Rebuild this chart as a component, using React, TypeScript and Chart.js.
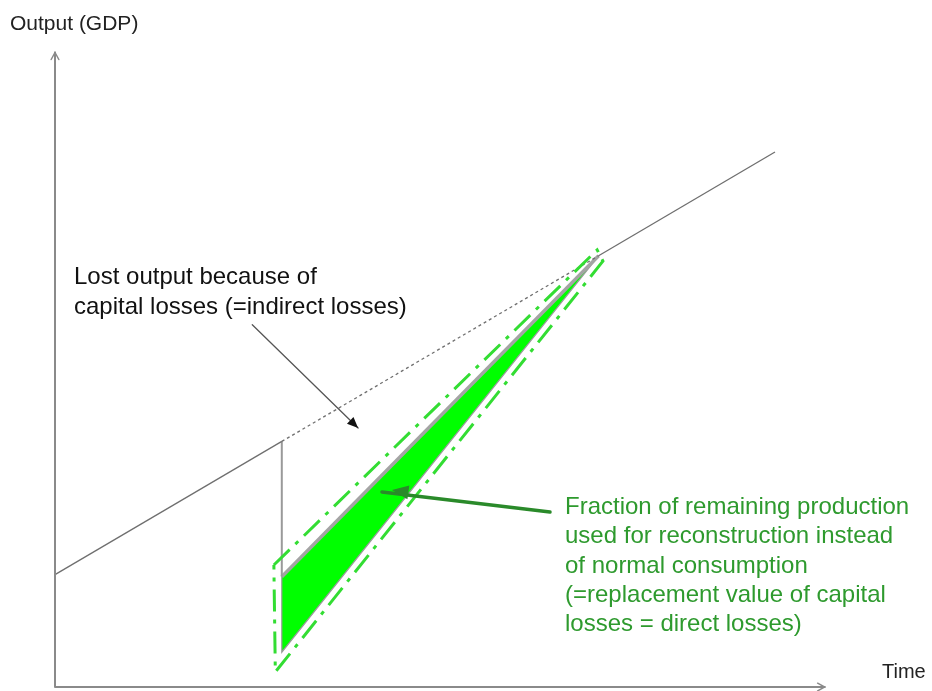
import React, { useEffect, useRef } from "react";
import { Chart, registerables } from "chart.js";

Chart.register(...registerables);

// Time (x) and output (y) in arbitrary units
const baselinePre = [
  { x: 0, y: 21 },
  { x: 31.5, y: 45.9 },
];
const baselineCounterfactual = [
  { x: 31.5, y: 45.9 },
  { x: 75.5, y: 80.6 },
];
const baselinePost = [
  { x: 75.5, y: 80.6 },
  { x: 100, y: 100 },
];
const dropLine = [
  { x: 31.5, y: 45.9 },
  { x: 31.5, y: 20.6 },
];
const recoveryLine = [
  { x: 31.5, y: 20.6 },
  { x: 75.5, y: 80.6 },
];
const directLossArea = [
  { x: 31.5, y: 20.6 },
  { x: 75.5, y: 80.6 },
  { x: 31.5, y: 6.5 },
  { x: 31.5, y: 20.6 },
];
const directLossOutline = [
  { x: 30.4, y: 22.8 },
  { x: 75.3, y: 81.7 },
  { x: 76.1, y: 79.6 },
  { x: 30.6, y: 2.8 },
  { x: 30.4, y: 22.8 },
];
const indirectArrow = [
  { x: 27.4, y: 67.7 },
  { x: 42.1, y: 48.4 },
];
const directArrow = [
  { x: 68.75, y: 32.7 },
  { x: 46.8, y: 36.8 },
];
const axisOrigin = { x: 0, y: 0 };
const axisEnds = { x: 106.9, y: 118.6 };

const indirectLabel = ["Lost output because of", "capital losses (=indirect losses)"];
const directLabel = [
  "Fraction of remaining production",
  "used for reconstruction instead",
  "of normal consumption",
  "(=replacement value of capital",
  "losses = direct losses)",
];
const yAxisTitle = "Output (GDP)";
const xAxisTitle = "Time";

const FONT = '"Liberation Sans", Arial, sans-serif';

function arrowHead(ctx: CanvasRenderingContext2D, x1: number, y1: number, x2: number, y2: number, size: number, filled: boolean) {
  const a = Math.atan2(y2 - y1, x2 - x1);
  const spread = filled ? 0.4 : 0.5;
  ctx.beginPath();
  ctx.moveTo(x2 - size * Math.cos(a - spread), y2 - size * Math.sin(a - spread));
  ctx.lineTo(x2, y2);
  ctx.lineTo(x2 - size * Math.cos(a + spread), y2 - size * Math.sin(a + spread));
  if (filled) {
    ctx.closePath();
    ctx.fill();
  } else {
    ctx.stroke();
  }
}

const decorPlugin = {
  id: "decor",
  afterDatasetsDraw(chart: any) {
    const ctx: CanvasRenderingContext2D = chart.ctx;
    const xs = chart.scales.x;
    const ys = chart.scales.y;
    const px = (v: number) => xs.getPixelForValue(v);
    const py = (v: number) => ys.getPixelForValue(v);
    ctx.save();
    ctx.setLineDash([]);
    ctx.lineCap = "round";

    // axes
    ctx.strokeStyle = "#8a8a8a";
    ctx.lineWidth = 2;
    const ox = px(axisOrigin.x);
    const oy = py(axisOrigin.y);
    const ex = px(axisEnds.x);
    const ey = py(axisEnds.y);
    ctx.beginPath();
    ctx.moveTo(ox, oy);
    ctx.lineTo(ox, ey);
    ctx.moveTo(ox, oy);
    ctx.lineTo(ex, oy);
    ctx.stroke();
    ctx.lineWidth = 1.5;
    arrowHead(ctx, ox, oy, ox, ey, 8, false);
    arrowHead(ctx, ox, oy, ex, oy, 8, false);

    // indirect loss arrow
    ctx.strokeStyle = "#555";
    ctx.fillStyle = "#111";
    ctx.lineWidth = 1.3;
    const a1 = { x: px(indirectArrow[0].x), y: py(indirectArrow[0].y) };
    const a2 = { x: px(indirectArrow[1].x), y: py(indirectArrow[1].y) };
    ctx.beginPath();
    ctx.moveTo(a1.x, a1.y);
    ctx.lineTo(a2.x, a2.y);
    ctx.stroke();
    arrowHead(ctx, a1.x, a1.y, a2.x, a2.y, 12, true);

    // direct loss arrow
    ctx.strokeStyle = "#2a8a2a";
    ctx.fillStyle = "#2a8a2a";
    ctx.lineWidth = 3.5;
    const b1 = { x: px(directArrow[0].x), y: py(directArrow[0].y) };
    const b2 = { x: px(directArrow[1].x), y: py(directArrow[1].y) };
    ctx.beginPath();
    ctx.moveTo(b1.x, b1.y);
    ctx.lineTo(b2.x - 10, b2.y + 1.8);
    ctx.stroke();
    arrowHead(ctx, b1.x, b1.y, b2.x, b2.y, 18, true);

    // texts
    ctx.textAlign = "left";
    ctx.textBaseline = "alphabetic";
    ctx.fillStyle = "#111";
    ctx.font = `24px ${FONT}`;
    indirectLabel.forEach((t, i) => ctx.fillText(t, 74, 284 + i * 30));
    ctx.fillStyle = "#2e9a2e";
    directLabel.forEach((t, i) => ctx.fillText(t, 565, 514 + i * 29.3));
    ctx.fillStyle = "#222";
    ctx.font = `21px ${FONT}`;
    ctx.fillText(yAxisTitle, 10, 30);
    ctx.font = `20px ${FONT}`;
    ctx.fillText(xAxisTitle, 882, 678);
    ctx.restore();
  },
};

export default function App() {
  const ref = useRef<HTMLCanvasElement>(null);
  useEffect(() => {
    document.body.style.margin = "0";
    const pxPerX = 7.2;
    const pxPerY = 5.35;
    const line = (data: any, color: string, width: number, extra: any = {}) => ({
      data,
      borderColor: color,
      borderWidth: width,
      pointRadius: 0,
      showLine: true,
      fill: false,
      tension: 0,
      clip: false,
      order: 1,
      ...extra,
    });
    const chart = new Chart(ref.current!, {
      type: "scatter",
      data: {
        datasets: [
          line(directLossArea, "#9a9a9a", 1.2, { fill: "shape", backgroundColor: "#00ff00", order: 10 }),
          line(baselinePre, "#6f6f6f", 1.3),
          line(baselineCounterfactual, "#6f6f6f", 1.3, { borderDash: [3, 3] }),
          line(baselinePost, "#6f6f6f", 1.3),
          line(dropLine, "#9a9a9a", 2),
          line(recoveryLine, "#a4a4a4", 3.5),
          line(directLossOutline, "#33dd33", 3, { borderDash: [22, 8, 4, 8], order: 0 }),
        ],
      },
      options: {
        animation: false,
        responsive: false,
        maintainAspectRatio: false,
        layout: { padding: 0 },
        plugins: { legend: { display: false }, tooltip: { enabled: false } },
        scales: {
          x: { type: "linear", display: false, min: -55 / pxPerX, max: (932 - 55) / pxPerX },
          y: { type: "linear", display: false, min: -(691 - 687) / pxPerY, max: 687 / pxPerY },
        },
      },
      plugins: [decorPlugin],
    });
    return () => chart.destroy();
  }, []);
  return (
    <div style={{ width: 932, height: 691, background: "#fff" }}>
      <canvas ref={ref} width={932} height={691} />
    </div>
  );
}
